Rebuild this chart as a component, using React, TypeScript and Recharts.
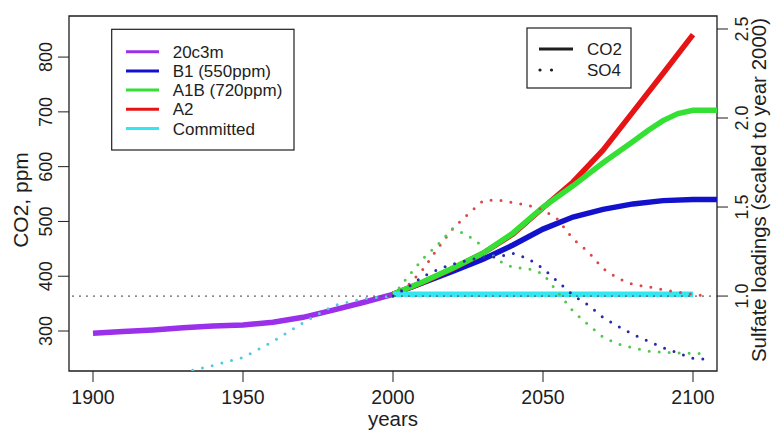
import React from 'react';
import { LineChart, Line, XAxis, YAxis, ReferenceLine, ReferenceArea } from 'recharts';

const FONT = '"Liberation Sans", Arial, Helvetica, sans-serif';
const INK = '#1e1e1e';

// ---- tick values ----
const yearTicks = [1900, 1950, 2000, 2050, 2100];
const co2Ticks = [300, 400, 500, 600, 700, 800];
const so4Ticks = [1.0, 1.5, 2.0, 2.5];

// ---- CO2 (ppm), left axis ----
const histYears = [1900, 1910, 1920, 1930, 1940, 1950, 1960, 1970, 1980, 1990, 2000];
const co2_20c3m = [296, 299, 302, 306, 309, 311, 316, 325, 338, 352, 367];
const scenYears = [2000, 2010, 2020, 2030, 2040, 2050, 2060, 2070, 2080, 2090, 2100, 2110];
const co2_B1 = [367, 388, 409, 431, 457, 486, 508, 522, 532, 538, 540, 540];
const co2_A2 = [367, 389, 414, 442, 477, 525, 572, 630, 700, 770, 841];
const a1bYears = [2000, 2010, 2020, 2030, 2040, 2050, 2060, 2070, 2080, 2085, 2090, 2095, 2100, 2110];
const co2_A1B = [367, 390, 415, 442, 479, 526, 565, 607, 646, 666, 684, 697, 703, 703];
const committedYears = [2000, 2100];
const co2_committed = [367, 367];

// ---- SO4 loadings (scaled to year 2000), right axis ----
const so4HistYears = [1930, 1940, 1950, 1960, 1970, 1980, 1990, 2000];
const so4_hist = [0.57, 0.61, 0.655, 0.745, 0.85, 0.945, 0.985, 1.0];
const so4Years = [2000, 2005, 2010, 2015, 2020, 2025, 2030, 2035, 2040, 2045, 2050,
  2055, 2060, 2065, 2070, 2075, 2080, 2085, 2090, 2095, 2100, 2105];
const so4_A2 = [1.0, 1.06, 1.15, 1.27, 1.38, 1.46, 1.535, 1.54, 1.525, 1.51, 1.485,
  1.43, 1.32, 1.25, 1.155, 1.1, 1.065, 1.052, 1.035, 1.022, 1.01, 1.0];
const so4_A1B = [1.0, 1.11, 1.21, 1.29, 1.38, 1.34, 1.28, 1.2, 1.16, 1.155, 1.125,
  1.02, 0.915, 0.84, 0.77, 0.73, 0.71, 0.69, 0.685, 0.68, 0.678, 0.678];
const so4_B1 = [1.0, 1.05, 1.11, 1.15, 1.18, 1.2, 1.22, 1.22, 1.24, 1.21, 1.155,
  1.08, 1.005, 0.95, 0.88, 0.83, 0.785, 0.747, 0.71, 0.68, 0.65, 0.645];

// ---- legends ----
const scenarioNames = ['20c3m', 'B1 (550ppm)', 'A1B (720ppm)', 'A2', 'Committed'];
const scenarioColors = ['#9a30ea', '#1212cc', '#35e035', '#e61414', '#35e6f0'];
const typeNames = ['CO2', 'SO4'];

const dotColors = { hist: '#55c8e0', B1: '#2a2aa8', A1B: '#50c850', A2: '#d84a4a' };

const toPts = (xs: number[], ys: number[]) => xs.map((x, i) => ({ year: x, v: ys[i] }));

// ---- layout (page coordinates: chart is placed at 0,0) ----
const W = 774;
const H = 434;
const LEFT_W = 69;
const RIGHT_W = 57;
const X_H = 63;
const TOP = 16;
const PLOT_L = LEFT_W;
const PLOT_R = W - RIGHT_W;

const TICK_FS = 18;
const XTICK_FS = 19.5;
const LEG_FS = 17;

const LeftTick = (props: any) => {
  const { x, y, payload } = props;
  return (
    <text x={x} y={y} transform={`rotate(-90 ${x} ${y})`} textAnchor="middle"
      fontSize={TICK_FS} fill={INK} fontFamily={FONT}>{payload.value}</text>
  );
};

const RightTick = (props: any) => {
  const { x, y, payload } = props;
  const bx = x + 13;
  return (
    <text x={bx} y={y} transform={`rotate(-90 ${bx} ${y})`} textAnchor="middle"
      fontSize={TICK_FS} fill={INK} fontFamily={FONT}>{Number(payload.value).toFixed(1)}</text>
  );
};

const solid = (key: string, data: any[], color: string) => (
  <Line key={key} data={data} dataKey="v" yAxisId="left" type="linear" stroke={color}
    strokeWidth={5.5} dot={false} activeDot={false} isAnimationActive={false} />
);

const dotted = (key: string, data: any[], color: string) => (
  <Line key={key} data={data} dataKey="v" yAxisId="right" type="linear" stroke={color}
    strokeWidth={3} strokeDasharray="0 10" strokeLinecap="round" dot={false}
    activeDot={false} isAnimationActive={false} />
);

export default function App() {
  return (
    <div style={{ position: 'absolute', left: 0, top: 0, width: W, height: H, fontFamily: FONT, background: '#fff' }}>
      <LineChart width={W} height={H} margin={{ top: TOP, right: 0, bottom: 0, left: 0 }}>
        <XAxis dataKey="year" type="number" domain={[1892, 2108]} allowDataOverflow
          ticks={yearTicks} height={X_H} axisLine={false} tickSize={11} tickMargin={8}
          tickLine={{ stroke: INK }} tick={{ fontSize: XTICK_FS, fill: INK, fontFamily: FONT }}
          label={() => (
            <text x={(PLOT_L + PLOT_R) / 2} y={426} textAnchor="middle" fontSize={20.5}
              fill={INK} fontFamily={FONT}>years</text>
          )} />
        <YAxis yAxisId="left" orientation="left" type="number" domain={[227, 875]}
          allowDataOverflow ticks={co2Ticks} width={LEFT_W} axisLine={false} tickSize={11}
          tickMargin={6} tickLine={{ stroke: INK }} tick={<LeftTick />}
          label={() => (
            <text x={28} y={200} transform="rotate(-90 28 200)" textAnchor="middle"
              fontSize={21} fill={INK} fontFamily={FONT}>CO2, ppm</text>
          )} />
        <YAxis yAxisId="right" orientation="right" type="number" domain={[0.579, 2.573]}
          allowDataOverflow ticks={so4Ticks} width={RIGHT_W} axisLine={false} tickSize={11}
          tickMargin={7} tickLine={{ stroke: INK }} tick={<RightTick />}
          label={() => (
            <text x={766} y={190} transform="rotate(-90 766 190)" textAnchor="middle"
              fontSize={20.5} fill={INK} fontFamily={FONT}>Sulfate loadings (scaled to year 2000)</text>
          )} />

        <ReferenceArea yAxisId="left" x1={1892} x2={2108} y1={227} y2={875}
          fill="none" stroke={INK} strokeWidth={1.3} ifOverflow="visible" />

        {solid('c20', toPts(histYears, co2_20c3m), scenarioColors[0])}
        {solid('cB1', toPts(scenYears, co2_B1), scenarioColors[1])}
        {solid('cA2', toPts(scenYears.slice(0, co2_A2.length), co2_A2), scenarioColors[3])}
        {solid('cA1B', toPts(a1bYears, co2_A1B), scenarioColors[2])}
        {solid('cCom', toPts(committedYears, co2_committed), scenarioColors[4])}

        {dotted('sHist', toPts(so4HistYears, so4_hist), dotColors.hist)}
        {dotted('sA2', toPts(so4Years, so4_A2), dotColors.A2)}
        {dotted('sA1B', toPts(so4Years, so4_A1B), dotColors.A1B)}
        {dotted('sB1', toPts(so4Years, so4_B1), dotColors.B1)}

        <ReferenceLine yAxisId="right" y={1} stroke="#555" strokeWidth={1.8}
          strokeDasharray="0 7" strokeLinecap="round" />
      </LineChart>

      <svg width={W} height={H} style={{ position: 'absolute', left: 0, top: 0, pointerEvents: 'none' }}>
        <rect x={111.7} y={29.3} width={182.3} height={120.7} fill="#fff" stroke={INK} strokeWidth={1.2} />
        {scenarioNames.map((name, i) => {
          const y = 51.7 + i * 19.2;
          return (
            <g key={name}>
              <line x1={126} x2={159} y1={y} y2={y} stroke={scenarioColors[i]} strokeWidth={3} />
              <text x={172.7} y={y + 6} fontSize={LEG_FS} fill={INK} fontFamily={FONT}>{name}</text>
            </g>
          );
        })}
        <rect x={527} y={28} width={104} height={60} fill="#fff" stroke={INK} strokeWidth={1.2} />
        {typeNames.map((name, i) => {
          const y = 49 + i * 21;
          return (
            <g key={name}>
              <line x1={i === 0 ? 539 : 540} x2={i === 0 ? 573 : 563} y1={y} y2={y} stroke={INK}
                strokeWidth={i === 0 ? 3 : 3.2} strokeDasharray={i === 0 ? undefined : '0 11.5'}
                strokeLinecap={i === 0 ? 'butt' : 'round'} />
              <text x={587} y={y + 6} fontSize={LEG_FS} fill={INK} fontFamily={FONT}>{name}</text>
            </g>
          );
        })}
      </svg>
    </div>
  );
}
